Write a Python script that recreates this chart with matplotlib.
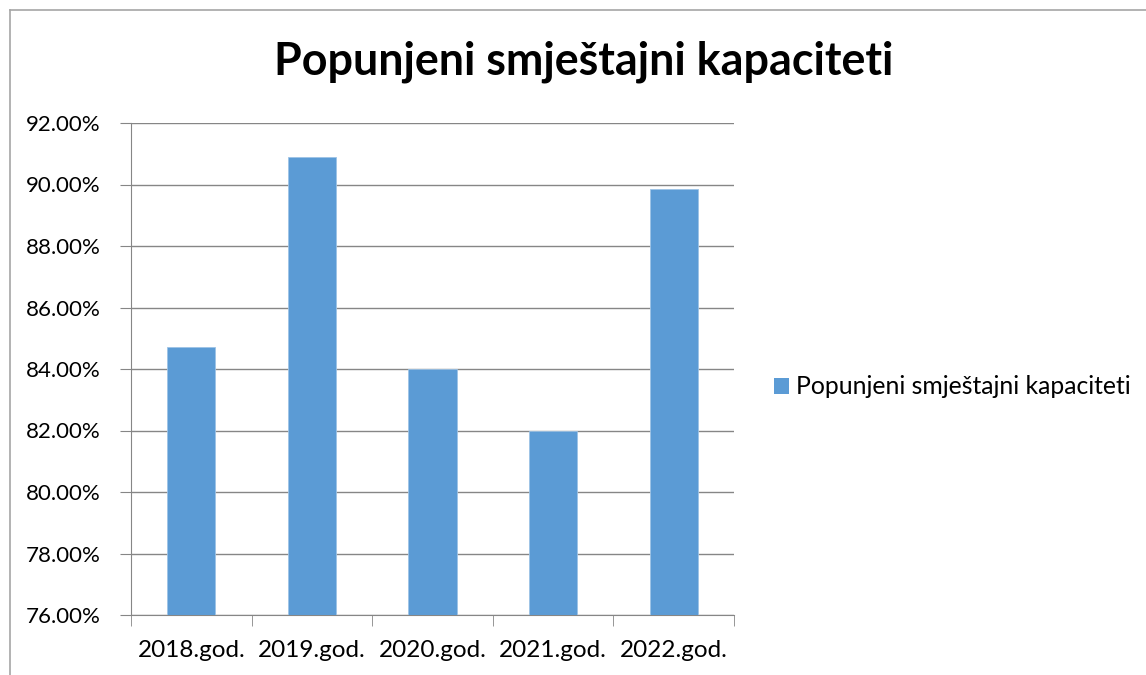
import matplotlib.pyplot as plt
from matplotlib.lines import Line2D
from matplotlib.patches import Patch

# data
years = ['2018.god.', '2019.god.', '2020.god.', '2021.god.', '2022.god.']
occupancy = [84.70, 90.89, 84.00, 82.00, 89.85]
y_ticks = [76, 78, 80, 82, 84, 86, 88, 90, 92]
series_name = 'Popunjeni smještajni kapaciteti'

plt.rcParams['font.family'] = ['Lato', 'DejaVu Sans']

W, H = 1146, 675
fig = plt.figure(figsize=(W / 100, H / 100), dpi=100)
ax = fig.add_axes([131 / W, 1 - 615 / H, (734 - 131) / W, (615 - 123) / H])

bar_color = '#5B9BD5'
grid_color = '#868686'

ax.bar(range(len(years)), occupancy, width=0.4, color=bar_color,
       edgecolor='#9dc3e6', linewidth=0.6, zorder=3)

ax.set_xlim(-0.5, len(years) - 0.5)
ax.set_ylim(76, 92)
ax.set_yticks(y_ticks)
ax.set_yticklabels([f'{v:.2f}%' for v in y_ticks], fontsize=16)
ax.yaxis.grid(True, color=grid_color, linewidth=1.0, zorder=0)

# category labels centred, ticks at category boundaries
ax.set_xticks(range(len(years)))
ax.set_xticklabels(years, fontsize=17.5)
ax.tick_params(axis='x', length=0, pad=18)
ax.set_xticks([i - 0.5 for i in range(len(years) + 1)], minor=True)
ax.tick_params(axis='x', which='minor', length=8, color=grid_color, direction='out')
ax.tick_params(axis='y', length=8, color=grid_color, pad=14)

for side in ['top', 'right']:
    ax.spines[side].set_visible(False)
ax.spines['left'].set_color(grid_color)
ax.spines['bottom'].set_color(grid_color)

fig.text(584 / W, 1 - 62 / H, series_name, ha='center', va='center',
         fontsize=32.3, fontweight='bold')

fig.legend(handles=[Patch(facecolor=bar_color, edgecolor='none', label=series_name)],
           loc='center left', bbox_to_anchor=(774 / W, 1 - 387 / H),
           frameon=False, fontsize=17.8, handlelength=0.6, handleheight=0.6,
           handletextpad=0.3, borderaxespad=0, borderpad=0)

# chart frame (only left and top edges visible in the crop)
fig.add_artist(Line2D([10 / W, 10 / W], [0, 1 - 10 / H], color='#a6a6a6', linewidth=1.2))
fig.add_artist(Line2D([10 / W, 1], [1 - 10 / H, 1 - 10 / H], color='#a6a6a6', linewidth=1.2))

fig.savefig('out.png', dpi=100)
